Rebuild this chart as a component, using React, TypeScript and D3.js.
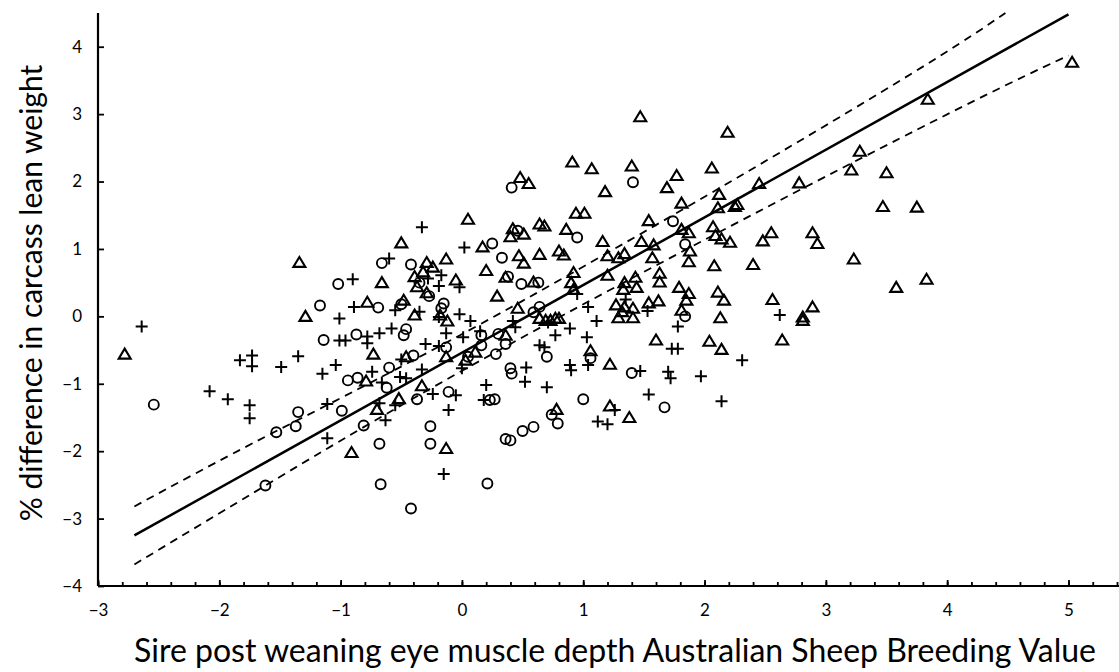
import React, { useRef, useEffect } from 'react'
import * as d3 from 'd3'

// sire ASBV vs % difference, three sire groups
const circlePts: [number, number][] = [
  [0.41, 1.91], [0.25, 1.08], [0.33, 0.87], [-0.66, 0.79], [-0.42, 0.77], [-0.35, 0.5], [-0.27, 0.3],
  [-1.02, 0.48], [-1.17, 0.16], [-0.69, 0.13], [-0.5, 0.18], [-0.15, 0.19], [-0.17, 0.12], [-0.46, -0.19],
  [-0.87, -0.27], [-1.14, -0.35], [-0.48, -0.28], [-2.54, -1.31], [-0.6, -0.76], [-0.4, -0.58], [-0.13, -0.46],
  [0.16, -0.28], [0.3, -0.26], [0.16, -0.43], [0.05, -0.6], [0.28, -0.56], [-0.94, -0.95], [-0.86, -0.91],
  [-0.62, -1.06], [-0.11, -1.12], [0.23, -1.24], [0.27, -1.23], [-0.37, -1.23], [-1.35, -1.42], [-0.99, -1.4],
  [-0.26, -1.63], [-1.37, -1.63], [-1.53, -1.72], [-0.81, -1.62], [-0.68, -1.89], [-0.26, -1.89], [0.36, -1.82],
  [0.4, -1.84], [-0.67, -2.49], [0.21, -2.48], [-1.62, -2.51], [-0.42, -2.85], [1.0, -1.23], [0.59, -1.64],
  [0.5, -1.7], [0.74, -1.46], [0.79, -1.59], [0.36, -0.41], [0.7, -0.6], [1.06, -0.62], [0.4, -0.77],
  [0.41, -0.85], [1.4, -0.84], [1.67, -1.35], [1.41, 1.99], [0.46, 1.27], [0.95, 1.17], [1.74, 1.41],
  [1.84, 1.07], [0.38, 0.59], [0.49, 0.48], [0.63, 0.5], [0.64, 0.14], [0.59, 0.06], [1.84, 0.0],
]

const plusPts: [number, number][] = [
  [-2.64, -0.15], [-0.33, 1.32], [0.02, 1.02], [-0.6, 0.86], [-0.28, 0.56], [-0.17, 0.61], [-0.19, 0.45],
  [-0.02, 0.43], [-0.9, 0.55], [-0.89, 0.14], [-1.01, -0.03], [-0.55, 0.09], [-0.35, 0.07], [-0.19, -0.01],
  [-0.02, 0.03], [0.07, -0.07], [-0.58, -0.18], [-0.78, -0.3], [-0.78, -0.4], [-1.01, -0.36], [-0.96, -0.36],
  [-0.68, -0.25], [-2.08, -1.11], [-1.93, -1.23], [-1.75, -1.32], [-1.75, -1.51], [-1.83, -0.65], [-1.73, -0.58],
  [-1.73, -0.74], [-1.49, -0.75], [-1.35, -0.59], [-1.15, -0.85], [-1.04, -0.72], [-0.5, -0.64], [-0.3, -0.41],
  [-0.19, -0.44], [-0.13, -0.25], [0.01, -0.31], [0.0, -0.77], [-0.74, -0.82], [-0.66, -0.98], [-0.51, -0.9],
  [-0.46, -0.92], [-0.33, -0.79], [-0.24, -1.15], [-0.05, -1.17], [0.2, -1.02], [0.18, -1.24], [-0.55, -1.32],
  [-0.68, -1.29], [-1.11, -1.3], [-0.63, -1.54], [-0.11, -1.39], [-1.11, -1.81], [-0.15, -2.34], [1.12, -1.56],
  [1.2, -1.6], [0.7, -1.05], [0.52, -0.97], [0.64, -0.43], [0.68, -0.46], [0.77, -0.28], [1.03, -0.31],
  [0.89, -0.72], [0.9, -0.8], [1.04, -0.72], [0.53, -0.76], [1.47, -0.81], [1.7, -0.82], [1.72, -0.92],
  [1.97, -0.89], [2.31, -0.65], [1.73, -0.48], [1.78, -0.48], [1.54, -1.16], [1.26, -1.39], [2.14, -1.26],
  [0.95, 0.33], [1.04, 0.14], [1.11, -0.07], [1.78, -0.15], [0.89, -0.18], [1.53, 0.08], [2.62, 0.02],
  [0.42, -0.07], [0.44, -0.16], [1.35, 0.25], [0.71, -0.09], [0.15, -0.22],
]

const trianglePts: [number, number][] = [
  [-2.78, -0.56], [-1.34, 0.8], [0.05, 1.44], [-0.5, 1.09], [0.17, 1.03], [0.2, 0.68], [0.36, 0.58],
  [0.4, 1.18], [-0.29, 0.8], [-0.24, 0.73], [-0.13, 0.85], [-0.39, 0.59], [-0.32, 0.66], [-0.37, 0.44],
  [-0.05, 0.54], [-0.29, 0.35], [0.29, 0.3], [-0.66, 0.5], [-1.29, 0.0], [-0.78, 0.21], [-0.48, 0.24],
  [-0.39, 0.02], [-0.18, 0.02], [-0.12, -0.07], [-0.73, -0.56], [-0.46, -0.6], [-0.13, -0.6], [0.03, -0.65],
  [0.11, -0.53], [0.36, -0.28], [-0.79, -0.96], [-0.33, -1.03], [-0.52, -1.22], [-0.7, -1.38], [-0.91, -2.02],
  [-0.13, -1.96], [0.78, -1.38], [1.06, -0.51], [1.22, -0.71], [1.6, -0.35], [2.04, -0.37], [2.14, -0.49],
  [2.64, -0.35], [1.22, -1.33], [1.38, -1.5], [1.47, 2.96], [2.19, 2.73], [0.91, 2.29], [1.07, 2.19],
  [1.4, 2.23], [2.06, 2.2], [1.77, 2.09], [1.69, 1.91], [1.18, 1.85], [0.48, 2.06], [0.55, 1.97],
  [3.28, 2.45], [3.21, 2.17], [3.5, 2.13], [2.78, 1.98], [2.45, 1.97], [2.12, 1.81], [1.81, 1.68],
  [0.94, 1.53], [1.01, 1.53], [2.11, 1.61], [2.25, 1.63], [2.27, 1.66], [3.47, 1.63], [0.64, 1.37],
  [0.68, 1.34], [0.42, 1.3], [0.51, 1.22], [0.86, 1.29], [1.54, 1.42], [1.81, 1.29], [1.87, 1.24],
  [2.07, 1.33], [2.09, 1.2], [2.14, 1.15], [2.21, 1.1], [2.55, 1.24], [2.48, 1.12], [2.89, 1.24],
  [2.93, 1.08], [1.16, 1.11], [1.48, 1.11], [1.58, 1.06], [1.88, 0.97], [1.87, 0.81], [1.57, 0.87],
  [2.08, 0.75], [2.4, 0.77], [3.23, 0.85], [3.58, 0.43], [0.64, 0.92], [0.47, 0.9], [0.51, 0.79],
  [0.8, 0.97], [0.84, 0.91], [1.2, 0.9], [1.29, 0.87], [1.34, 0.93], [0.92, 0.65], [1.2, 0.61],
  [1.63, 0.64], [1.63, 0.51], [1.43, 0.58], [1.34, 0.5], [1.33, 0.4], [1.44, 0.43], [0.59, 0.51],
  [0.9, 0.5], [0.92, 0.4], [1.79, 0.43], [1.87, 0.34], [1.85, 0.24], [2.11, 0.36], [2.16, 0.24],
  [2.56, 0.25], [2.89, 0.14], [2.81, -0.01], [2.81, -0.06], [2.13, -0.02], [1.81, 0.09], [1.62, 0.23],
  [1.54, 0.2], [1.41, 0.12], [1.41, -0.02], [1.34, 0.14], [1.27, 0.17], [1.29, -0.02], [1.32, 0.07],
  [0.46, 0.12], [0.64, -0.03], [0.69, -0.06], [0.73, -0.06], [0.77, -0.03], [0.8, -0.03], [3.84, 3.22],
  [5.03, 3.77], [3.75, 1.62], [3.83, 0.55],
]

// regression line and its confidence limits
const fitX = [-2.7, 5.0]
const fitY = [-3.25, 4.48]
const upperX = [-2.7, -1.55, 0.5, 3.34, 4.48]
const upperY = [-2.82, -1.72, 0.23, 3.2, 4.5]
const lowerX = [-2.7, -1.62, 0.5, 3.61, 5.0]
const lowerY = [-3.68, -2.51, -0.31, 2.64, 3.87]

const xTicks = [-3, -2, -1, 0, 1, 2, 3, 4, 5]
const yTicks = [-4, -3, -2, -1, 0, 1, 2, 3, 4]

const xTitle = 'Sire post weaning eye muscle depth Australian Sheep Breeding Value'
const yTitle = '% difference in carcass lean weight'

export default function App() {
  const svgRef = useRef<SVGSVGElement>(null)

  useEffect(() => {
    const width = 1119
    const height = 672
    const font = 'Lato, "Open Sans", sans-serif'

    const svg = d3.select(svgRef.current)
    svg.selectAll('*').remove()
    svg.attr('width', width).attr('height', height)

    const x = d3.scaleLinear().domain([-3, 5.4]).range([98, 1117])
    const y = d3.scaleLinear().domain([-4, 4.5]).range([586, 13])

    // points
    const pts = svg.append('g').attr('fill', 'none').attr('stroke', '#000')

    pts.selectAll('circle')
      .data(circlePts)
      .join('circle')
      .attr('cx', d => x(d[0]))
      .attr('cy', d => y(d[1]))
      .attr('r', 5)
      .attr('stroke-width', 1.9)

    pts.selectAll('path.plus')
      .data(plusPts)
      .join('path')
      .attr('class', 'plus')
      .attr('transform', d => `translate(${x(d[0])},${y(d[1])})`)
      .attr('d', 'M-6,0H6M0,-6V6')
      .attr('stroke-width', 2)

    pts.selectAll('path.tri')
      .data(trianglePts)
      .join('path')
      .attr('class', 'tri')
      .attr('transform', d => `translate(${x(d[0])},${y(d[1])})`)
      .attr('d', 'M0,-5.5L6,4.5L-6,4.5Z')
      .attr('stroke-width', 2.1)

    // regression + limits
    const line = d3.line<[number, number]>()
      .x(d => x(d[0]))
      .y(d => y(d[1]))
    const bandLine = d3.line<[number, number]>()
      .x(d => x(d[0]))
      .y(d => y(d[1]))
      .curve(d3.curveNatural)

    svg.append('path')
      .datum(fitX.map((v, i) => [v, fitY[i]] as [number, number]))
      .attr('d', line)
      .attr('fill', 'none')
      .attr('stroke', '#000')
      .attr('stroke-width', 2.5)

    ;[[upperX, upperY], [lowerX, lowerY]].forEach(([xs, ys]) => {
      svg.append('path')
        .datum(xs.map((v, i) => [v, ys[i]] as [number, number]))
        .attr('d', bandLine)
        .attr('fill', 'none')
        .attr('stroke', '#000')
        .attr('stroke-width', 1.8)
        .attr('stroke-dasharray', '8,6')
    })

    // axes
    const minor = svg.append('g')
      .attr('transform', `translate(0,${y(-4)})`)
      .call(d3.axisBottom(x).tickValues(x.ticks(42)).tickSizeInner(-4).tickSizeOuter(0).tickFormat(() => ''))
    minor.select('.domain').remove()
    minor.selectAll('line').attr('stroke-width', 1.8)

    const xAxis = svg.append('g')
      .attr('transform', `translate(0,${y(-4)})`)
      .call(d3.axisBottom(x).tickValues(xTicks).tickSizeInner(-6).tickSizeOuter(0).tickPadding(18).tickFormat(d3.format('')))
    xAxis.select('.domain').attr('d', `M${x(-3)},0H1119`).attr('stroke-width', 2.2)
    xAxis.selectAll('line').attr('stroke-width', 1.8)
    xAxis.selectAll('text').attr('font-family', font).attr('font-size', 17).attr('fill', '#000')

    const yAxis = svg.append('g')
      .attr('transform', `translate(${x(-3)},0)`)
      .call(d3.axisLeft(y).tickValues(yTicks).tickSizeInner(-6).tickSizeOuter(0).tickPadding(16).tickFormat(d3.format('')))
    yAxis.select('.domain').attr('d', `M0,${y(-4)}V${y(4.5)}`).attr('stroke-width', 2.2)
    yAxis.selectAll('line').attr('stroke-width', 1.8)
    yAxis.selectAll('text').attr('font-family', font).attr('font-size', 17).attr('fill', '#000')

    // titles
    svg.append('text')
      .attr('x', 615)
      .attr('y', 662)
      .attr('text-anchor', 'middle')
      .attr('font-family', font)
      .attr('font-size', 32)
      .text(xTitle)

    svg.append('text')
      .attr('transform', `translate(42,293) rotate(-90)`)
      .attr('text-anchor', 'middle')
      .attr('font-family', font)
      .attr('font-size', 30)
      .text(yTitle)
  }, [])

  return (
    <div style={{ position: 'absolute', left: 0, top: 0, background: '#fff' }}>
      <svg ref={svgRef} style={{ display: 'block' }} />
    </div>
  )
}
